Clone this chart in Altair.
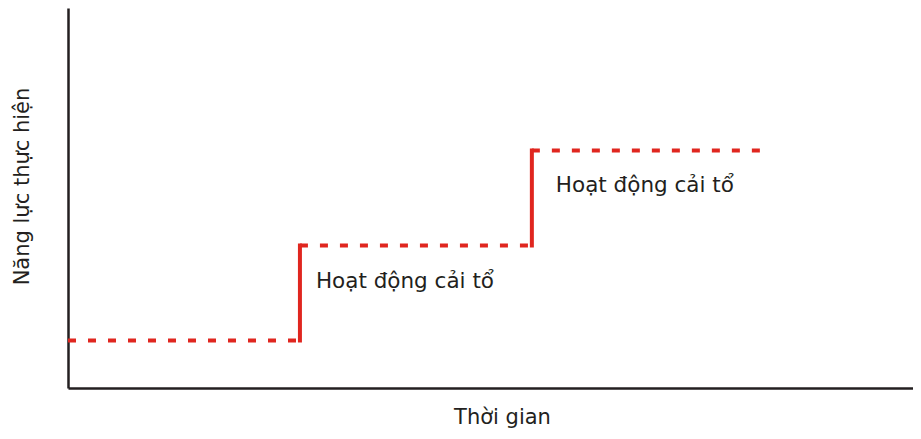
import altair as alt
import pandas as pd

# step levels (performance) over time
seg_start = [0, 3, 6]
seg_end = [3, 6, 9]
levels = [1, 3, 5]

jump_x = [3, 6]
jump_from = [1, 3]
jump_to = [3, 5]

label_text = "Hoạt động cải tổ"
x_title = "Thời gian"
y_title = "Năng lực thực hiện"

RED = "#e0261f"
INK = "#231f20"
FONT = "DejaVu Sans"

flat = pd.DataFrame({"x": seg_start, "x2": seg_end, "y": levels})
jumps = pd.DataFrame({"x": jump_x, "y": jump_from, "y2": jump_to})
lab1 = pd.DataFrame({"x": [jump_x[0]], "y": [jump_to[0]], "t": [label_text]})
lab2 = pd.DataFrame({"x": [jump_x[1]], "y": [jump_to[1]], "t": [label_text]})

xs = alt.Scale(domain=[0, 10.93], nice=False, zero=False)
ys = alt.Scale(domain=[0, 8], nice=False, zero=False)

xaxis = alt.Axis(title=x_title, labels=False, ticks=False, grid=False,
                 domainColor=INK, domainWidth=2.5,
                 titleFont=FONT, titleFontSize=21, titleFontWeight="normal",
                 titleColor=INK, titlePadding=18, titleX=434, titleAlign="center")
yaxis = alt.Axis(title=y_title, labels=False, ticks=False, grid=False,
                 domainColor=INK, domainWidth=2.5,
                 titleFont=FONT, titleFontSize=21, titleFontWeight="normal",
                 titleColor=INK, titlePadding=36, titleY=178, titleAlign="center")

dashed = alt.Chart(flat).mark_rule(color=RED, strokeWidth=4, strokeDash=[8, 12]).encode(
    x=alt.X("x:Q", scale=xs, axis=xaxis),
    x2="x2:Q",
    y=alt.Y("y:Q", scale=ys, axis=yaxis),
)

solid = alt.Chart(jumps).mark_rule(color=RED, strokeWidth=4, strokeCap="square").encode(
    x=alt.X("x:Q", scale=xs),
    y=alt.Y("y:Q", scale=ys),
    y2="y2:Q",
)

t1 = alt.Chart(lab1).mark_text(align="left", baseline="alphabetic", dx=16, dy=42,
                               font=FONT, fontSize=21.5, color=INK).encode(
    x=alt.X("x:Q", scale=xs), y=alt.Y("y:Q", scale=ys), text="t:N")
t2 = alt.Chart(lab2).mark_text(align="left", baseline="alphabetic", dx=24, dy=41,
                               font=FONT, fontSize=21.5, color=INK).encode(
    x=alt.X("x:Q", scale=xs), y=alt.Y("y:Q", scale=ys), text="t:N")

chart = alt.layer(dashed, solid, t1, t2).properties(
    width=845, height=380,
    autosize=alt.AutoSizeParams(type="none"),
    padding={"left": 60, "top": 0, "right": 0, "bottom": 43},
).configure(background="white").configure_view(strokeWidth=0, stroke="transparent")

chart.save("out.html", embed_options={"renderer": "svg", "actions": False})
